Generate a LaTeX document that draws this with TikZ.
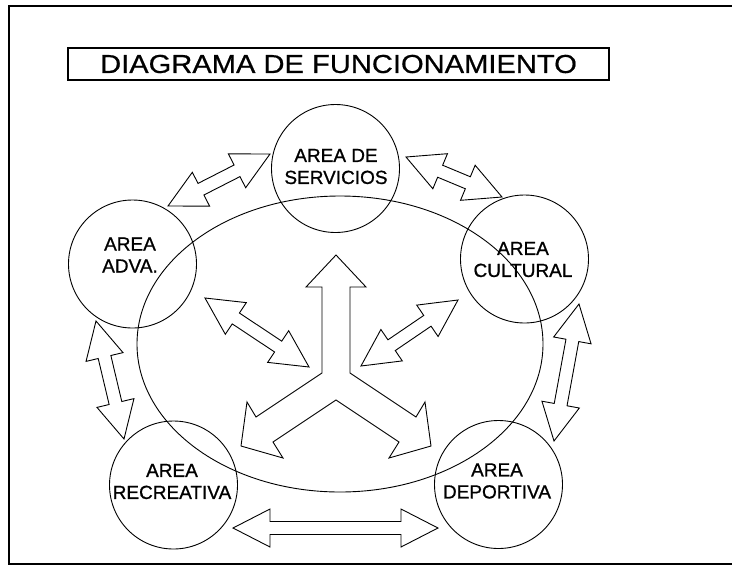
\documentclass[tikz,border=0pt]{standalone}
\usepackage{fontspec}
\setmainfont{Liberation Sans}
\newfontfamily\titlefont[FakeStretch=1.12,FakeBold=0.6]{Liberation Sans}
\newfontfamily\areafont[FakeBold=0.9]{Liberation Sans}
\usetikzlibrary{positioning,calc,shapes.geometric}
\newcommand{\arrhead}{37pt}
\newcommand{\arrwing}{19pt}
\newcommand{\arrshaft}{6.5pt}
\tikzset{
  area circle/.style={
    draw,
    circle,
    line width=0.9pt,
    minimum size=128pt,
    inner sep=0pt
  },
  area text/.style={align=center, font=\areafont\fontsize{19}{22}\selectfont, inner sep=0pt},
  title box/.style={
    draw,
    line width=1.3pt,
    minimum width=541pt,
    minimum height=32pt,
    font=\titlefont\fontsize{26}{30}\selectfont
  },
  block line/.style={line width=0.9pt, line join=miter},
  frame line/.style={line width=2pt}
}
% hollow double-headed block arrow between two named points
\newcommand{\blockarrow}[2]{%
  \draw[block line] (#1)
    -- ($(#1)!\arrhead!(#2)!\arrwing!90:(#2)$)
    -- ($(#1)!\arrhead!(#2)!\arrshaft!90:(#2)$)
    -- ($(#2)!\arrhead!(#1)!\arrshaft!-90:(#1)$)
    -- ($(#2)!\arrhead!(#1)!\arrwing!-90:(#1)$)
    -- (#2)
    -- ($(#2)!\arrhead!(#1)!\arrwing!90:(#1)$)
    -- ($(#2)!\arrhead!(#1)!\arrshaft!90:(#1)$)
    -- ($(#1)!\arrhead!(#2)!\arrshaft!-90:(#2)$)
    -- ($(#1)!\arrhead!(#2)!\arrwing!-90:(#2)$)
    -- cycle;}
\begin{document}
\begin{tikzpicture}[x=1pt,y=-1pt]
\useasboundingbox (0,0) rectangle (732,566);
\draw[frame line] (732,6) -- (8.5,6) -- (8.5,564) -- (732,564);
\node[title box] (title) at (338.5,64) {DIAGRAMA DE FUNCIONAMIENTO};
% areas
\node[area circle] (serv) at (335.5,168.5) {};
\node[area circle] (adv) at (132.5,264) {};
\node[area circle] (cult) at (524.5,259) {};
\node[area circle] (recr) at (173.5,485) {};
\node[area circle] (dep) at (498.5,484.5) {};
\node[area text] at ($(serv)+(0.5,-2)$) {AREA DE\\SERVICIOS};
\node[area text] at ($(adv)+(-2.5,-9)$) {AREA\\ADVA.};
\node[area text] at ($(cult)+(-1.5,0.5)$) {AREA\\CULTURAL};
\node[area text] at ($(recr)+(-1.5,-3.5)$) {AREA\\RECREATIVA};
\node[area text] at ($(dep)+(-1.5,-3.5)$) {AREA\\DEPORTIVA};
\draw[line width=0.9pt] (340,344) ellipse [x radius=203, y radius=148];
% arrow ends
\coordinate (a1) at (168,206);  \coordinate (a2) at (270,154);
\coordinate (b1) at (406,157);  \coordinate (b2) at (502,197);
\coordinate (c1) at (96,321);   \coordinate (c2) at (124,439);
\coordinate (d1) at (579,304);  \coordinate (d2) at (554,441);
\coordinate (e1) at (233,528);  \coordinate (e2) at (438,528);
\coordinate (f1) at (205,298);  \coordinate (f2) at (309,367);
\coordinate (g1) at (361,366);  \coordinate (g2) at (458,300);
\blockarrow{a1}{a2}
\blockarrow{b1}{b2}
\blockarrow{c1}{c2}
\blockarrow{d1}{d2}
\blockarrow{e1}{e2}
\blockarrow{f1}{f2}
\blockarrow{g1}{g2}
% three-way arrow in the middle
\draw[block line] (336,255) -- (366,287) -- (350,287) -- (350,373)
  -- (416,417) -- (425,402) -- (431,446) -- (389,458) -- (399,442)
  -- (336,400) -- (273,442) -- (283,458) -- (241,446) -- (247,402)
  -- (256,417) -- (322,373) -- (322,287) -- (306,287) -- cycle;
\end{tikzpicture}
\end{document}
